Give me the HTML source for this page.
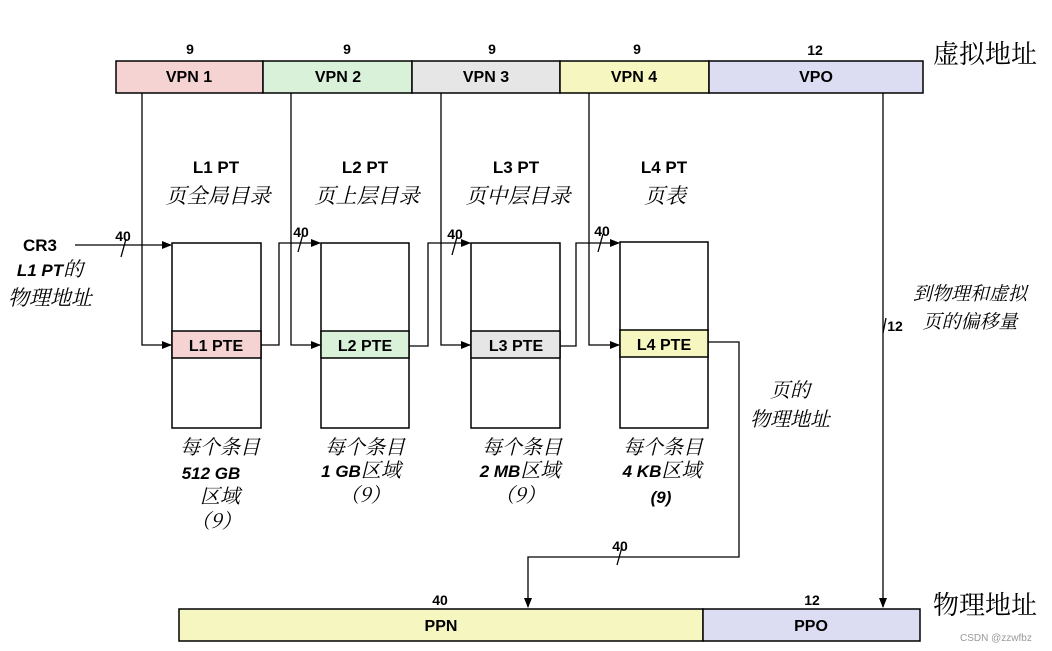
<!DOCTYPE html>
<html><head><meta charset="utf-8"><style>
html,body{margin:0;padding:0;background:#fff;}
svg{display:block;}
.b{font-family:"Liberation Sans","Noto Sans CJK SC",sans-serif;font-weight:bold;fill:#000;}
.c{font-family:"Noto Serif CJK SC","Liberation Serif",serif;fill:#000;}
</style></head><body>
<svg width="1052" height="651" viewBox="0 0 1052 651" xmlns="http://www.w3.org/2000/svg">
<defs><marker id="a" markerWidth="10" markerHeight="10" refX="9" refY="5" orient="auto" markerUnits="userSpaceOnUse"><path d="M0,1 L10,5 L0,9 z" fill="#000"/></marker></defs>
<g stroke="#000" stroke-width="1.5">
<rect x="116" y="61" width="147" height="32" fill="#f6d3d3"/>
<rect x="263" y="61" width="149" height="32" fill="#d9f0d9"/>
<rect x="412" y="61" width="148" height="32" fill="#e6e6e6"/>
<rect x="560" y="61" width="149" height="32" fill="#f6f6c0"/>
<rect x="709" y="61" width="214" height="32" fill="#dcdcf2"/>
<rect x="172" y="243" width="89" height="185" fill="#fff"/>
<rect x="172" y="331" width="89" height="27" fill="#f6d3d3"/>
<rect x="321" y="243" width="88" height="185" fill="#fff"/>
<rect x="321" y="331" width="88" height="27" fill="#d9f0d9"/>
<rect x="471" y="243" width="89" height="185" fill="#fff"/>
<rect x="471" y="331" width="89" height="27" fill="#e6e6e6"/>
<rect x="620" y="242" width="88" height="186" fill="#fff"/>
<rect x="620" y="330" width="88" height="27" fill="#f6f6c0"/>
<rect x="179" y="609" width="524" height="32" fill="#f6f6c0"/>
<rect x="703" y="609" width="217" height="32" fill="#dcdcf2"/>
</g>
<g stroke="#000" stroke-width="1.3" fill="none">
<path d="M75,245 H171" marker-end="url(#a)"/>
<path d="M142,93 V345 H171" marker-end="url(#a)"/>
<path d="M291,93 V345 H320" marker-end="url(#a)"/>
<path d="M441,93 V345 H470" marker-end="url(#a)"/>
<path d="M589,93 V345 H619" marker-end="url(#a)"/>
<path d="M261,345 H279 V243 H320" marker-end="url(#a)"/>
<path d="M409,346 H428 V243 H470" marker-end="url(#a)"/>
<path d="M560,346 H576 V243 H619" marker-end="url(#a)"/>
<path d="M708,342 H739 V557 H528 V607" marker-end="url(#a)"/>
<path d="M883,93 V607" marker-end="url(#a)"/>
<path d="M121,257 L126,239 M298,252 L303,234 M452,255 L457,237 M598,252 L603,234 M617,565 L622,547 M883,333 L886,318"/>
</g>
<g class="b" font-size="14" text-anchor="middle">
<text x="190" y="54">9</text><text x="347" y="54">9</text><text x="492" y="54">9</text><text x="637" y="54">9</text><text x="815" y="55">12</text>
<text x="189" y="82" font-size="16">VPN 1</text><text x="338" y="82" font-size="16">VPN 2</text><text x="486" y="82" font-size="16">VPN 3</text><text x="634" y="82" font-size="16">VPN 4</text><text x="816" y="82" font-size="16">VPO</text>
<text x="216" y="173" font-size="17">L1 PT</text><text x="365" y="173" font-size="17">L2 PT</text><text x="516" y="173" font-size="17">L3 PT</text><text x="664" y="173" font-size="17">L4 PT</text>
<text x="216" y="351" font-size="16">L1 PTE</text><text x="365" y="351" font-size="16">L2 PTE</text><text x="516" y="351" font-size="16">L3 PTE</text><text x="664" y="350" font-size="16">L4 PTE</text>
<text x="123" y="241">40</text><text x="301" y="237">40</text><text x="455" y="239">40</text><text x="602" y="236">40</text><text x="620" y="551">40</text>
<text x="40" y="251" font-size="17">CR3</text>
<text x="895" y="331" font-size="14">12</text>
<text x="440" y="605">40</text><text x="812" y="605">12</text>
<text x="441" y="631" font-size="16">PPN</text><text x="811" y="631" font-size="16">PPO</text>
</g>
<g class="b" font-size="17" font-style="italic" text-anchor="middle">
<text x="50" y="276">L1 PT<tspan class="c" font-weight="normal" font-size="20">的</tspan></text>
<text x="211" y="479">512 GB</text>
<text x="361" y="477">1 GB<tspan class="c" font-weight="normal" font-size="20">区域</tspan></text>
<text x="520" y="477">2 MB<tspan class="c" font-weight="normal" font-size="20">区域</tspan></text>
<text x="662" y="477">4 KB<tspan class="c" font-weight="normal" font-size="20">区域</tspan></text>
<text x="661" y="503">(9)</text>
</g>
<g class="c" font-size="21" font-style="italic" text-anchor="middle">
<text x="218" y="203">页全局目录</text><text x="367" y="203">页上层目录</text><text x="518" y="203">页中层目录</text><text x="665" y="203">页表</text>
<text x="50" y="305">物理地址</text>
<text x="220" y="454" font-size="20">每个条目</text><text x="365" y="454" font-size="20">每个条目</text><text x="522" y="454" font-size="20">每个条目</text><text x="663" y="454" font-size="20">每个条目</text>
<text x="220" y="503" font-size="20">区域</text><text x="216" y="528" font-size="20">（9）</text>
<text x="365" y="502" font-size="20">（9）</text><text x="520" y="502" font-size="20">（9）</text>
<text x="790" y="397" font-size="20">页的</text><text x="790" y="426" font-size="20">物理地址</text>
<text x="970" y="300" font-size="19">到物理和虚拟</text><text x="970" y="328" font-size="19">页的偏移量</text>
</g>
<g class="c" font-size="26" text-anchor="start">
<text x="933" y="63">虚拟地址</text>
<text x="933" y="614">物理地址</text>
</g>
<text x="960" y="641" font-family="Liberation Sans,sans-serif" font-size="10" fill="#999">CSDN @zzwfbz</text>
</svg>
</body></html>
